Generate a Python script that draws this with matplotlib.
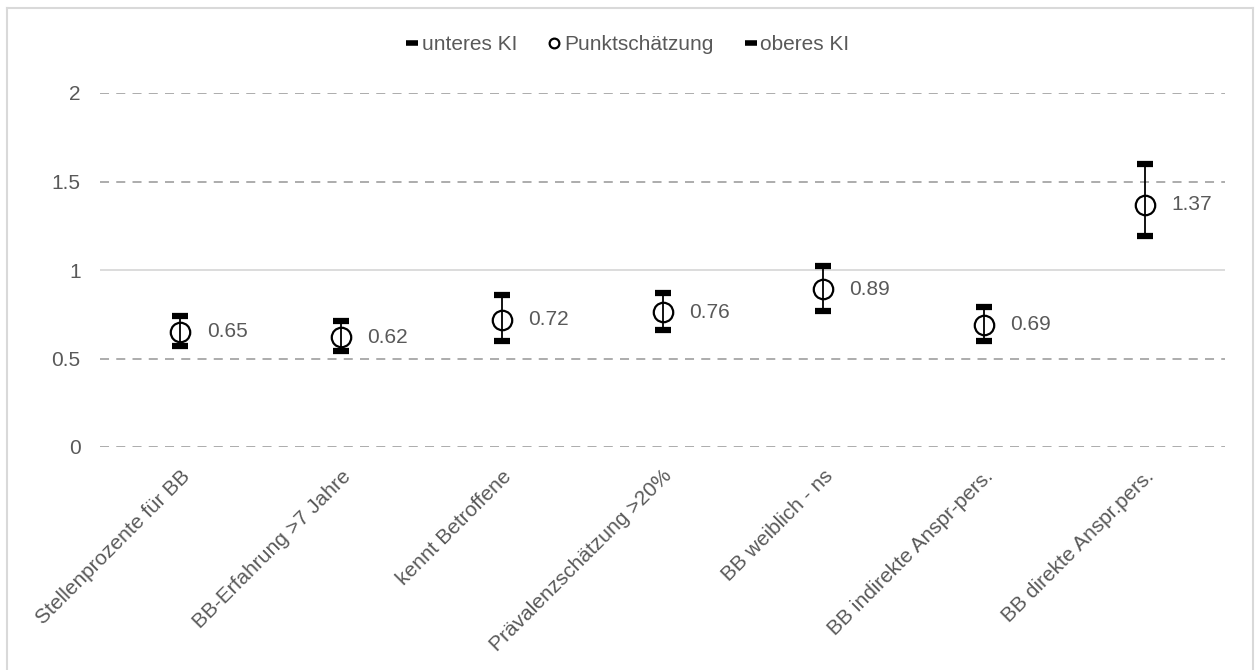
import matplotlib.pyplot as plt
from matplotlib.lines import Line2D

# data
categories = ["Stellenprozente für BB", "BB-Erfahrung >7 Jahre", "kennt Betroffene",
              "Prävalenzschätzung >20%", "BB weiblich - ns",
              "BB indirekte Anspr-pers.", "BB direkte Anspr.pers."]
punkt = [0.65, 0.62, 0.72, 0.76, 0.89, 0.69, 1.37]
unteres = [0.57, 0.54, 0.60, 0.66, 0.77, 0.60, 1.19]
oberes = [0.74, 0.71, 0.86, 0.87, 1.02, 0.79, 1.60]
yticks = [0, 0.5, 1, 1.5, 2]

txt = "#595959"
fs = 15
plt.rcParams['font.family'] = ['Liberation Sans', 'DejaVu Sans']

fig = plt.figure(figsize=(12.55, 6.7), dpi=100)
ax = fig.add_axes([100/1255, 1-447/670, 1125/1255, 354/670])

x = list(range(len(categories)))

# grid lines
for t in yticks:
    if t == 1:
        ax.axhline(t, color="#d9d9d9", lw=1.3, zorder=0)
    else:
        ax.axhline(t, color="#a6a6a6", lw=1.3, ls=(0, (5, 4)), zorder=0)

# vertical whiskers + caps (separate series like in the excel chart)
ax.vlines(x, unteres, oberes, color="black", lw=1.3, zorder=2)
ax.plot(x, unteres, ls="none", marker="_", ms=12, mew=4.5, color="black", zorder=3)
ax.plot(x, oberes, ls="none", marker="_", ms=12, mew=4.5, color="black", zorder=3)
ax.plot(x, punkt, ls="none", marker="o", ms=14, mfc="none", mec="black", mew=1.6, zorder=4)

for xi, v in zip(x, punkt):
    ax.annotate(f"{v:.2f}", (xi, v), xytext=(19, 0), textcoords="offset points",
                va="center", ha="left", fontsize=fs, color=txt)

ax.set_xlim(-0.5, len(categories) - 0.5)
ax.set_ylim(0, 2)
ax.set_yticks(yticks)
ax.set_yticklabels(["0", "0.5", "1", "1.5", "2"])
ax.set_xticks(x)
ax.set_xticklabels(categories, rotation=45, ha="right", rotation_mode="anchor")
ax.tick_params(axis="both", length=0, labelsize=fs, colors=txt)
ax.tick_params(axis="y", pad=14)
ax.tick_params(axis="x", pad=14)
for s in ax.spines.values():
    s.set_visible(False)

handles = [
    Line2D([], [], ls="none", marker="_", ms=9, mew=4, color="black"),
    Line2D([], [], ls="none", marker="o", ms=7, mfc="none", mec="black", mew=1.6),
    Line2D([], [], ls="none", marker="_", ms=9, mew=4, color="black"),
]
leg = fig.legend(handles, ["unteres KI", "Punktschätzung", "oberes KI"],
                 loc="center", bbox_to_anchor=(0.5, 1-45/670), ncol=3, frameon=False,
                 fontsize=fs, handlelength=0.6, handletextpad=0.15, columnspacing=1.5,
                 labelcolor=txt)

# chart border
bc = "#d9d9d9"
fig.add_artist(Line2D([6.5/1255, 6.5/1255], [0, 1-8/670], color=bc, lw=1.5))
fig.add_artist(Line2D([6.5/1255, 1253/1255], [1-8/670, 1-8/670], color=bc, lw=1.5))
fig.add_artist(Line2D([1253/1255, 1253/1255], [0, 1-8/670], color=bc, lw=1.5))

fig.savefig("out.png", dpi=100)
